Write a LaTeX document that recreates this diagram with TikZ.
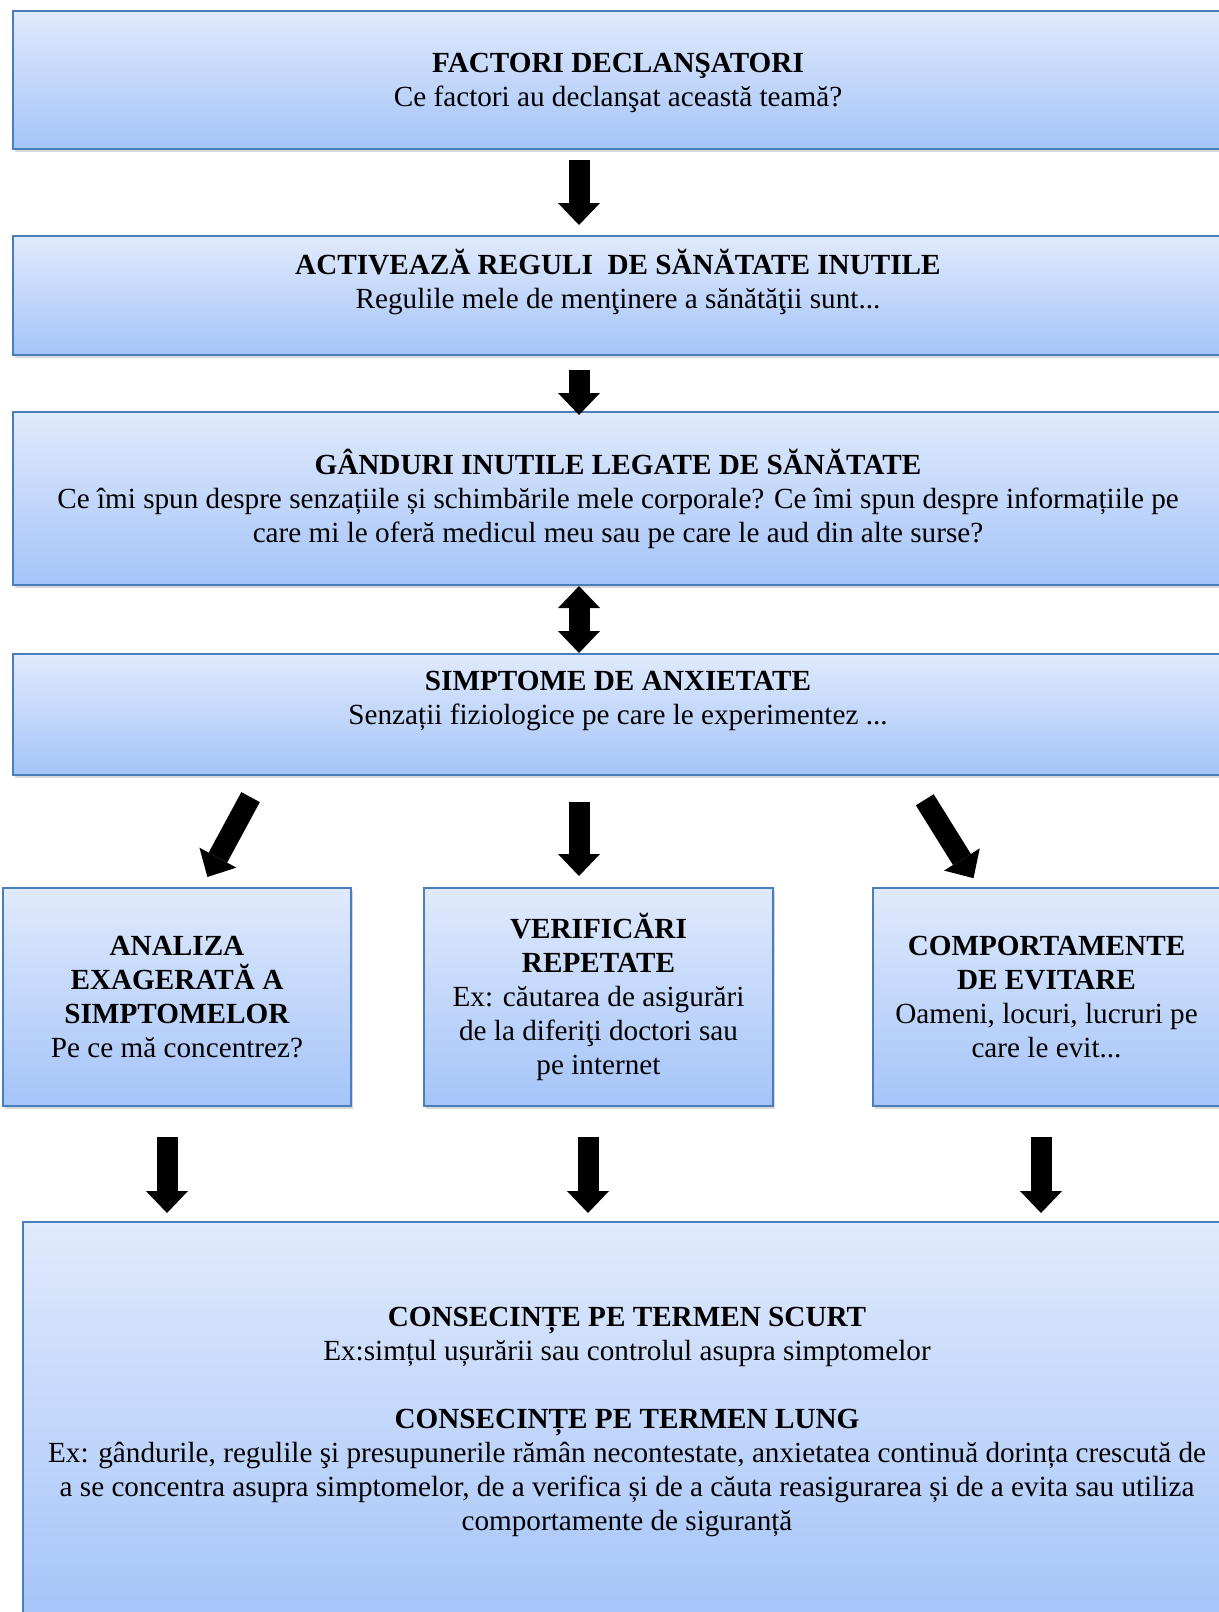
\documentclass[tikz,border=0pt]{standalone}
\usepackage{fontspec}
\setmainfont{Liberation Serif}
\usetikzlibrary{arrows.meta,shadows}
\definecolor{boxtop}{HTML}{E0EAFC}
\definecolor{boxbot}{HTML}{A5C4F9}
\definecolor{boxline}{HTML}{4A7EBB}
\tikzstyle{box}=[draw=boxline, line width=1pt, top color=boxtop, bottom color=boxbot, drop shadow={shadow xshift=1.2pt, shadow yshift=-1.5pt, opacity=0.3}, align=center, inner sep=0pt, anchor=north west, font=\fontsize{14.6}{17}\selectfont]
\tikzstyle{blk}=[line width=10.5pt, -{Triangle[width=21pt,length=11pt,line width=0pt]}]
\tikzstyle{dblk}=[line width=10.5pt, {Triangle[width=21pt,length=11pt,line width=0pt]}-{Triangle[width=21pt,length=11pt,line width=0pt]}]

\begin{document}
\begin{tikzpicture}[x=0.5pt, y=-0.5pt]
    \useasboundingbox (0,0) rectangle (1219,1612);

    % main chain
    \node (f1) [box, minimum width=605pt, minimum height=69pt, text depth=0pt] at (12,10)
        {\textbf{FACTORI DECLANŞATORI}\\Ce factori au declanşat această teamă?};
    \node (f2) [box, minimum width=605pt, minimum height=59.5pt, text depth=17pt] at (12,235)
        {\textbf{ACTIVEAZĂ REGULI\ \ DE SĂNĂTATE INUTILE}\\Regulile mele de menţinere a sănătăţii sunt...};
    \node (f3) [box, minimum width=605pt, minimum height=86.5pt] at (12,411)
        {\textbf{GÂNDURI INUTILE LEGATE DE SĂNĂTATE}\\Ce îmi spun despre senzațiile și schimbările mele corporale? Ce îmi spun despre informațiile pe\\care mi le oferă medicul meu sau pe care le aud din alte surse?};
    \node (f4) [box, minimum width=605pt, minimum height=60.5pt, text depth=17pt] at (12,653)
        {\textbf{SIMPTOME DE ANXIETATE}\\Senzații fiziologice pe care le experimentez ...};

    % three reactions
    \node (a1) [box, minimum width=174pt, minimum height=109pt] at (2,887)
        {\textbf{ANALIZA}\\\textbf{EXAGERATĂ A}\\\textbf{SIMPTOMELOR}\\Pe ce mă concentrez?};
    \node (a2) [box, minimum width=174.5pt, minimum height=109pt] at (423,887)
        {\textbf{VERIFICĂRI}\\\textbf{REPETATE}\\Ex: căutarea de asigurări\\de la diferiţi doctori sau\\pe internet};
    \node (a3) [box, minimum width=173.5pt, minimum height=109pt] at (872,887)
        {\textbf{COMPORTAMENTE}\\\textbf{DE EVITARE}\\Oameni, locuri, lucruri pe\\care le evit...};

    \node (f5) [box, minimum width=604pt, minimum height=199.5pt] at (22,1221)
        {\textbf{CONSECINȚE PE TERMEN SCURT}\\Ex:simțul ușurării sau controlul asupra simptomelor\\[17pt]
         \textbf{CONSECINȚE PE TERMEN LUNG}\\Ex: gândurile, regulile şi presupunerile rămân necontestate, anxietatea continuă dorința crescută de\\a se concentra asupra simptomelor, de a verifica și de a căuta reasigurarea și de a evita sau utiliza\\comportamente de siguranță};

    % arrow columns
    \coordinate (ax) at (579,0);
    \coordinate (dla) at (262,0);
    \coordinate (dlb) at (202,0);
    \coordinate (dra) at (910,0);
    \coordinate (drb) at (979,0);
    \coordinate (bl) at (167,0);
    \coordinate (bm) at (588,0);
    \coordinate (br) at (1041,0);

    \draw[blk, shorten <=5pt, shorten >=5pt] (f1.south -| ax) -- (f2.north -| ax);
    \draw[blk, shorten <=7pt, shorten >=-2pt] (f2.south -| ax) -- (f3.north -| ax);
    \draw[dblk] (f3.south -| ax) -- (f4.north -| ax);
    \draw[blk, shorten <=12pt, shorten >=5.7pt] (f4.south -| dla) -- (a1.north -| dlb);
    \draw[blk, shorten <=13pt, shorten >=5.5pt] (f4.south -| ax) -- (a2.north -| ax);
    \draw[blk, shorten <=14pt, shorten >=5.2pt] (f4.south -| dra) -- (a3.north -| drb);
    \draw[blk, shorten <=15pt, shorten >=4pt] (a1.south -| bl) -- (f5.north -| bl);
    \draw[blk, shorten <=15pt, shorten >=4pt] (a2.south -| bm) -- (f5.north -| bm);
    \draw[blk, shorten <=15pt, shorten >=4pt] (a3.south -| br) -- (f5.north -| br);
\end{tikzpicture}
\end{document}
